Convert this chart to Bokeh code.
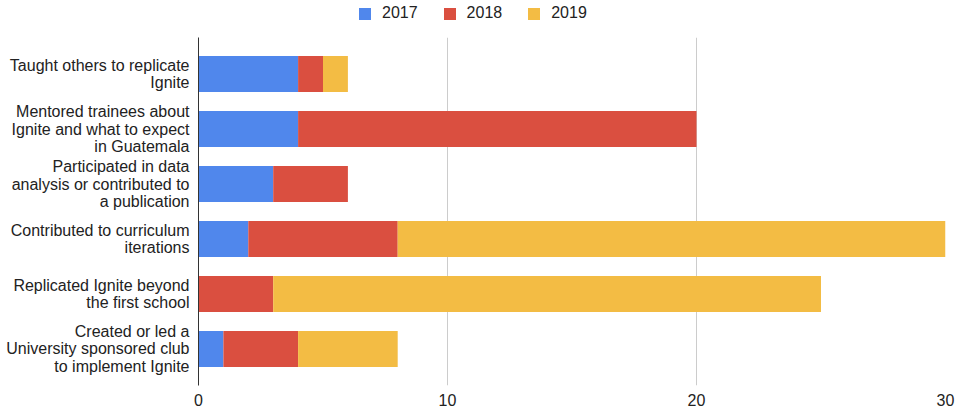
from bokeh.plotting import figure
from bokeh.layouts import column
from bokeh.models import FactorRange, Range1d, FixedTicker, ColumnDataSource, Legend, LegendItem
from bokeh.embed import file_html
from bokeh.resources import INLINE

categories = [
    "Taught others to replicate\nIgnite",
    "Mentored trainees about\nIgnite and what to expect\nin Guatemala",
    "Participated in data\nanalysis or contributed to\na publication",
    "Contributed to curriculum\niterations",
    "Replicated Ignite beyond\nthe first school",
    "Created or led a\nUniversity sponsored club\nto implement Ignite",
]
years = ["2017", "2018", "2019"]
v2017 = [4, 4, 3, 2, 0, 1]
v2018 = [1, 16, 3, 6, 3, 3]
v2019 = [1, 0, 0, 22, 22, 4]
x_ticks = [0, 10, 20, 30]
colors = ["#5087ec", "#da4f40", "#f3bc44"]

FONT = "Liberation Sans"

source = ColumnDataSource(data={"cat": categories, "2017": v2017, "2018": v2018, "2019": v2019})

# ---- legend strip on top ----
leg = figure(
    width=957, height=37, x_range=Range1d(0, 1), y_range=Range1d(0, 1),
    output_backend="svg", toolbar_location=None,
    min_border=0, x_axis_location=None, y_axis_location=None,
)
leg.outline_line_color = None
leg.xgrid.visible = False
leg.ygrid.visible = False
# swatch renderers with no drawable extent, only used to draw the legend keys
nan = float("nan")
swatch_src = ColumnDataSource(data={"y": [nan], "l": [nan], "r": [nan]})
dummy = [leg.hbar(y="y", left="l", right="r", height=0.5, fill_color=c, line_color=None, source=swatch_src)
         for c in colors]
lg = Legend(
    items=[LegendItem(label=y, renderers=[r]) for y, r in zip(years, dummy)],
    orientation="horizontal",
    location=(159, 15),
    background_fill_alpha=0,
    border_line_color=None,
    padding=0, margin=0, spacing=24,
    glyph_width=15, glyph_height=15, label_standoff=10,
    label_text_font=FONT, label_text_font_size="16px", label_text_color="#222222",
)
leg.add_layout(lg, "center")

# ---- main chart ----
p = figure(
    width=957, height=376,
    x_range=Range1d(0, 30),
    y_range=FactorRange(*list(reversed(categories)), range_padding=0.165, range_padding_units="absolute"),
    output_backend="svg", toolbar_location=None,
    min_border_left=198, min_border_right=12, min_border_top=0, min_border_bottom=28,
)

p.hbar_stack(years, y="cat", height=0.655, fill_color=colors, line_color=None, source=source)

p.outline_line_color = None
p.background_fill_color = "white"

# x axis
p.xaxis.ticker = FixedTicker(ticks=x_ticks)
p.xaxis.axis_line_color = None
p.xaxis.major_tick_line_color = None
p.xaxis.major_tick_out = 0
p.xaxis.major_tick_in = 0
p.xaxis.minor_tick_line_color = None
p.xaxis.major_label_standoff = 8
p.xaxis.major_label_text_font = FONT
p.xaxis.major_label_text_font_size = "16px"
p.xaxis.major_label_text_color = "#222222"

# y axis
p.yaxis.axis_line_color = "#333333"
p.yaxis.axis_line_width = 1
p.yaxis.major_tick_line_color = None
p.yaxis.major_tick_out = 0
p.yaxis.major_tick_in = 0
p.yaxis.minor_tick_line_color = None
p.yaxis.major_label_standoff = 9
p.yaxis.major_label_text_font = FONT
p.yaxis.major_label_text_font_size = "16px"
p.yaxis.major_label_text_color = "#222222"
p.yaxis.major_label_text_line_height = 1.03

# grid
p.xgrid.ticker = FixedTicker(ticks=[10, 20, 30])
p.xgrid.grid_line_color = "#cccccc"
p.ygrid.grid_line_color = None

layout = column(leg, p, spacing=0)

open("out.html", "w").write(file_html(layout, INLINE))
